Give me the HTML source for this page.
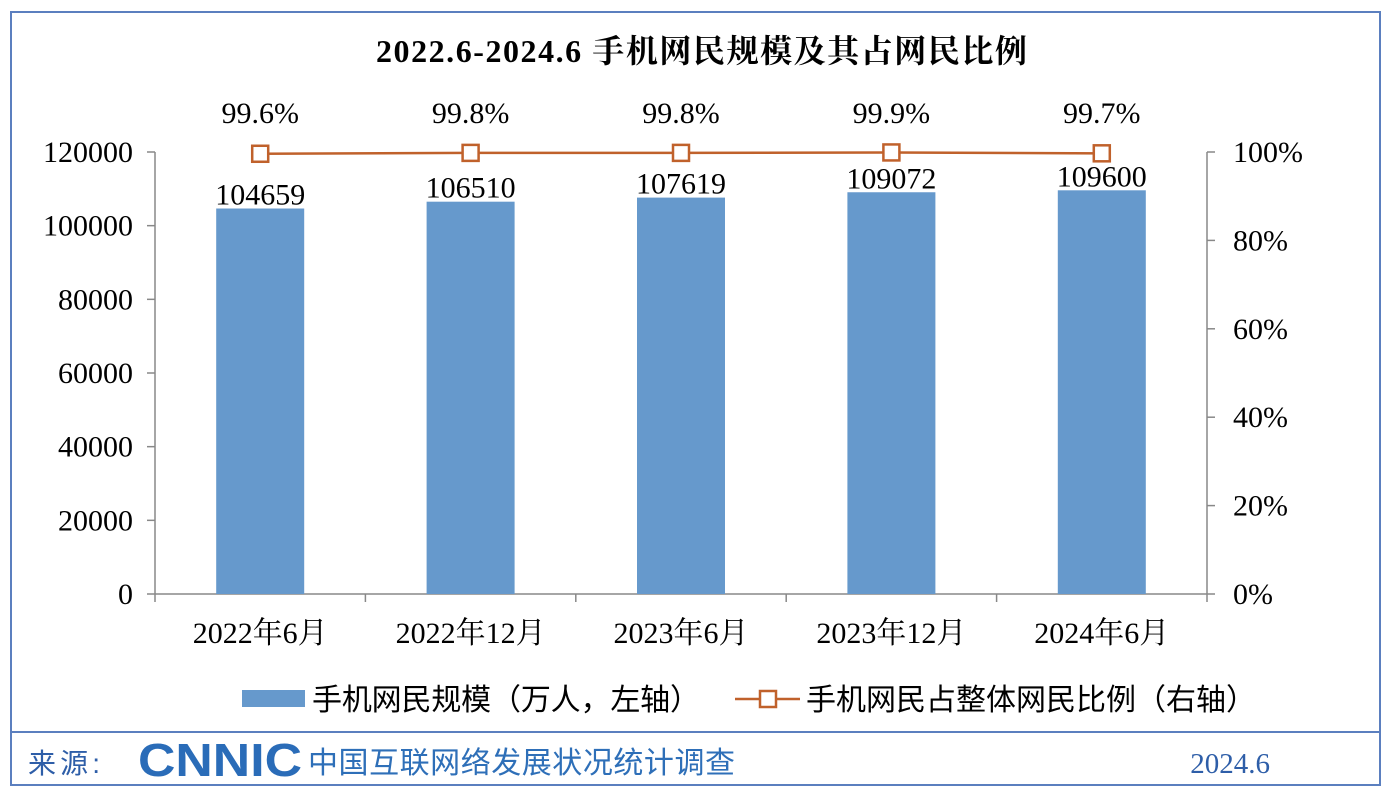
<!DOCTYPE html>
<html><head><meta charset="utf-8"><style>
body{margin:0;background:#fff;}
svg text{font-family:"Liberation Serif","Noto Serif CJK SC",serif;}
svg text.sans{font-family:"Liberation Sans","Noto Sans CJK SC",sans-serif;}
</style></head><body>
<svg width="1398" height="800" viewBox="0 0 1398 800" xmlns="http://www.w3.org/2000/svg">
<rect x="11" y="12" width="1369" height="773" fill="#fff" stroke="#5b7fbf" stroke-width="2"/>
<line x1="11" y1="732" x2="1380" y2="732" stroke="#5b7fbf" stroke-width="2"/>
<text x="376" y="62" textLength="651" font-size="32" font-weight="bold">2022.6-2024.6 手机网民规模及其占网民比例</text>
<g id="plot"></g>
<g>
<rect x="242" y="690" width="63" height="17" fill="#6699cc"/>
<text class="sans" x="312" y="710" textLength="388" font-size="30">手机网民规模（万人，左轴）</text>
<line x1="735" y1="699" x2="800" y2="699" stroke="#c0612b" stroke-width="2.5"/>
<rect x="760" y="691" width="16" height="16" fill="#fff" stroke="#c0612b" stroke-width="2.5"/>
<text class="sans" x="806" y="710" textLength="450" font-size="30">手机网民占整体网民比例（右轴）</text>
</g>
<g>
<text class="sans" x="28" y="773" textLength="72" font-size="28" fill="#2e5ea8">来源:</text>
<text class="sans" x="138" y="776" textLength="164" lengthAdjust="spacingAndGlyphs" font-size="46" font-weight="bold" fill="#2a6cb8">CNNIC</text>
<text class="sans" x="308" y="773" textLength="427" font-size="30" fill="#2e6fb8">中国互联网络发展状况统计调查</text>
<text x="1270" y="773" font-size="29" fill="#2e5ea8" text-anchor="end">2024.6</text>
</g>
</svg>
<script>
const categories=["2022年6月","2022年12月","2023年6月","2023年12月","2024年6月"];
const users=[104659,106510,107619,109072,109600];
const share=[99.6,99.8,99.8,99.9,99.7];
const leftTicks=[0,20000,40000,60000,80000,100000,120000];
const rightTicks=[0,20,40,60,80,100];
const NS="http://www.w3.org/2000/svg";
const g=document.getElementById('plot');
const X0=155,X1=1207,Y0=594,Y1=152;
const yL=v=>Y0-(v/120000)*(Y0-Y1);
const yR=v=>Y0-(v/100)*(Y0-Y1);
const bw=(X1-X0)/categories.length;
const xc=i=>X0+bw*(i+0.5);
function el(t,a,txt){const e=document.createElementNS(NS,t);for(const k in a)e.setAttribute(k,a[k]);if(txt!==undefined)e.textContent=txt;g.appendChild(e);return e;}
let e;
e=el('line',{x1:X0,y1:Y1,x2:X0,y2:Y0,stroke:'#888','stroke-width':1.5});


e=el('line',{x1:X1,y1:Y1,x2:X1,y2:Y0,stroke:'#888','stroke-width':1.5});


e=el('line',{x1:X0,y1:Y0,x2:X1,y2:Y0,stroke:'#888','stroke-width':1.5});


leftTicks.forEach(v=>{
 el('line',{x1:X0-8,y1:yL(v),x2:X0,y2:yL(v),stroke:'#888','stroke-width':1.5});
 e=el('text',{x:133,y:yL(v)+10,'text-anchor':'end','font-size':30},String(v));
 
 
});
rightTicks.forEach(v=>{
 el('line',{x1:X1,y1:yR(v),x2:X1+8,y2:yR(v),stroke:'#888','stroke-width':1.5});
 e=el('text',{x:1233,y:yR(v)+10,'font-size':30},v+'%');
 
 
});
for(let i=0;i<=categories.length;i++)el('line',{x1:X0+bw*i,y1:Y0,x2:X0+bw*i,y2:Y0+8,stroke:'#888','stroke-width':1.5});
categories.forEach((c,i)=>{
 e=el('text',{x:xc(i),y:643,'text-anchor':'middle','font-size':30},c);
 
 
 const bx=xc(i)-44;
 e=el('rect',{x:bx,y:yL(users[i]),width:88,height:Y0-yL(users[i]),fill:'#6699cc'});
 
 
 e=el('text',{x:xc(i),y:yL(users[i])-4,'text-anchor':'middle','font-size':30},String(users[i]));
 
 
});
const pts=share.map((v,i)=>xc(i)+','+yR(v)).join(' ');
e=el('polyline',{points:pts,fill:'none',stroke:'#c0612b','stroke-width':2.5});


share.forEach((v,i)=>{
 e=el('rect',{x:xc(i)-8,y:yR(v)-8,width:16,height:16,fill:'#fff',stroke:'#c0612b','stroke-width':2.5});
 
 
 e=el('text',{x:xc(i),y:123,'text-anchor':'middle','font-size':30},v.toFixed(1)+'%');
 
 
});
</script>
</body></html>
